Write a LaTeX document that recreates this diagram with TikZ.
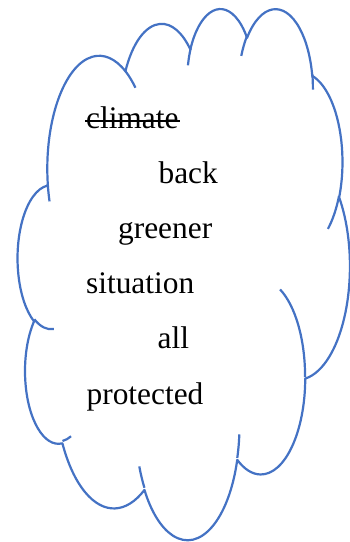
\documentclass[tikz,border=0pt]{standalone}
\usepackage{fontspec}
\setmainfont{Liberation Serif}
\definecolor{cloudblue}{RGB}{68,114,196}
% one lobe: radii, visual start angle, sweep (degrees)
\newcommand{\cloudarc}[4]{arc[start angle={atan2(#1*sin(#3),#2*cos(#3))},
  delta angle={Mod(atan2(#1*sin(#3+#4),#2*cos(#3+#4))-atan2(#1*sin(#3),#2*cos(#3)),360)},
  x radius=#1,y radius=#2]}

\begin{document}
\begin{tikzpicture}[x=1pt,y=-1pt,line width=2.2pt,
cloud line/.style={draw=cloudblue,line join=round},
word/.style={anchor=base west,inner sep=0pt,font=\fontsize{31.4}{37}\selectfont}]
\fill [white] (0,0) rectangle (350,542);
\useasboundingbox (0,0) rectangle (350,542);

% cloud
\begin{scope}[shift={(17.8pt,-7.3pt)},x=7.685pt,y=-12.292pt]
\draw [cloud line] (3.9,14.37) \cloudarc{6.753}{9.190}{-190.48748}{123.78053}
  \cloudarc{5.333}{7.267}{-144.10238}{89.94523}
  \cloudarc{4.365}{5.945}{-145.80792}{99.72302}
  \cloudarc{4.857}{6.595}{-130.98607}{117.24173}
  \cloudarc{5.333}{7.273}{-78.70888}{109.02692}
  \cloudarc{6.775}{9.220}{-46.26725}{130.269}
  \cloudarc{5.785}{7.867}{0.62502}{114.03333}
  \cloudarc{6.752}{9.215}{22.4516}{115.17255}
  \cloudarc{7.720}{10.543}{66.24263}{75.71102}
  \cloudarc{4.360}{5.918}{-274.94208}{146.73557}
  \cloudarc{4.345}{5.945}{-246.8285}{152.51885} -- cycle;
% inner bits
\draw [cloud line] (4.693,26.177) \cloudarc{4.345}{5.945}{86.742}{26.4295};
\draw [cloud line] (6.928,34.899) \cloudarc{4.360}{5.918}{73.61047}{11.44747};
\draw [cloud line] (16.478,39.090) \cloudarc{6.752}{9.215}{137.62415}{14.0811};
\draw [cloud line] (28.827,34.751) \cloudarc{6.752}{9.215}{6.45327}{15.99835};
\draw [cloud line] (34.129,22.954) \cloudarc{5.785}{7.867}{-70.29235}{70.91737};
\draw [cloud line] (41.798,15.354) \cloudarc{5.333}{7.273}{30.31803}{27.7515};
\draw [cloud line] (38.324,5.426) \cloudarc{4.857}{6.595}{-13.74433}{14.8589};
\draw [cloud line] (29.078,3.952) \cloudarc{4.857}{6.595}{-149.18145}{18.19537};
\draw [cloud line] (22.141,4.720) \cloudarc{4.365}{5.945}{-163.49427}{17.68635};
\draw [cloud line] (14.000,5.192) \cloudarc{6.753}{9.190}{-66.70695}{12.31935};
\draw [cloud line] (4.127,15.789) \cloudarc{6.753}{9.190}{157.65435}{11.85817};
\end{scope}

% words
\node [word] (climate) at (85,128) {climate};
\draw [line width=1.6pt] ([yshift=6.8pt]climate.base west) -- ([yshift=6.8pt]climate.base east);
\node [word] (back) at (157.5,183.2) {back};
\node [word] (greener) at (117,238.4) {greener};
\node [word] (situation) at (85,293.6) {situation};
\node [word] (all) at (156.5,348.8) {all};
\node [word] (protected) at (85.5,404) {protected};
\end{tikzpicture}
\end{document}
